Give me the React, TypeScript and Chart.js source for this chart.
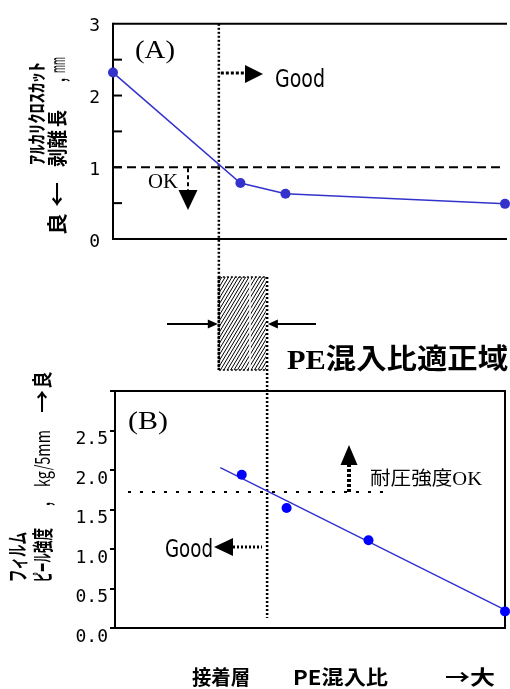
import React, { useEffect, useRef } from 'react';
import { Chart, registerables } from 'chart.js';

Chart.register(...registerables);

// ---- data ----
const peRatioA = [0, 32.5, 44, 100];
const peelLengthA = [2.32, 0.78, 0.63, 0.49];
const peRatioB = [32.5, 44, 65, 100];
const peelStrengthB = [1.94, 1.52, 1.11, 0.21];
const trendX = [27, 100];
const trendY = [2.03, 0.23];
const limitA = 1.0;
const limitB = 1.72;
const rangeLow = 27;
const rangeHigh = 39;

const TICK_FONT = { family: '"DejaVu Sans Mono", monospace', size: 18 };
const JP = '"Noto Sans CJK JP", sans-serif';
const SERIF_JP = '"Liberation Serif", "Noto Sans CJK JP", serif';

type Opt = { rot?: number; base?: CanvasTextBaseline; color?: string };

function fit(ctx: CanvasRenderingContext2D, s: string, x: number, y: number, font: string, len: number, o: Opt = {}) {
  ctx.save();
  ctx.font = font;
  ctx.fillStyle = o.color || '#000';
  const w = ctx.measureText(s).width || 1;
  ctx.translate(x, y);
  if (o.rot) ctx.rotate(o.rot);
  ctx.scale(len / w, 1);
  ctx.textAlign = 'center';
  ctx.textBaseline = o.base || 'alphabetic';
  ctx.fillText(s, 0, 0);
  ctx.restore();
}

function seg(ctx: CanvasRenderingContext2D, x1: number, y1: number, x2: number, y2: number, w: number, dash: number[] = [], color = '#000') {
  ctx.save();
  ctx.strokeStyle = color;
  ctx.lineWidth = w;
  ctx.setLineDash(dash);
  ctx.beginPath();
  ctx.moveTo(x1, y1);
  ctx.lineTo(x2, y2);
  ctx.stroke();
  ctx.restore();
}

function tri(ctx: CanvasRenderingContext2D, tx: number, ty: number, dir: 'up' | 'down' | 'left' | 'right', len: number, half: number) {
  ctx.save();
  ctx.fillStyle = '#000';
  ctx.beginPath();
  ctx.moveTo(tx, ty);
  if (dir === 'right') { ctx.lineTo(tx - len, ty - half); ctx.lineTo(tx - len, ty + half); }
  if (dir === 'left') { ctx.lineTo(tx + len, ty - half); ctx.lineTo(tx + len, ty + half); }
  if (dir === 'down') { ctx.lineTo(tx - half, ty - len); ctx.lineTo(tx + half, ty - len); }
  if (dir === 'up') { ctx.lineTo(tx - half, ty + len); ctx.lineTo(tx + half, ty + len); }
  ctx.closePath();
  ctx.fill();
  ctx.restore();
}

const R90 = -Math.PI / 2;

const decorA = {
  id: 'decorA',
  beforeDatasetsDraw(chart: any) {
    const { ctx, chartArea: ca, scales } = chart;
    const y = scales.y;
    // frame (no right edge visible)
    seg(ctx, ca.left, ca.top, ca.right + 2, ca.top, 2);
    seg(ctx, ca.left, ca.bottom, ca.right + 2, ca.bottom, 2);
    seg(ctx, ca.left, ca.top - 1, ca.left, ca.bottom + 1, 2);
    // inward ticks
    for (let v = 0.5; v < 3; v += 0.5) {
      const py = y.getPixelForValue(v);
      seg(ctx, ca.left, py, ca.left + 9, py, 2);
    }
    // limit line
    const yl = y.getPixelForValue(limitA);
    seg(ctx, ca.left, yl, ca.right, yl, 2, [9, 5]);
    // vertical range line (low)
    const vx = scales.x.getPixelForValue(rangeLow);
    seg(ctx, vx, ca.top, vx, 370, 2.5, [2, 2]);
  },
  afterDraw(chart: any) {
    const { ctx, scales } = chart;
    const x = scales.x;
    const bx1 = x.getPixelForValue(rangeLow);
    const bx2 = x.getPixelForValue(rangeHigh);
    const by1 = 277, by2 = 370;

    // (A) label
    fit(ctx, '(A)', 155, 58, '26px "Liberation Serif", serif', 40);
    // Good arrow
    seg(ctx, bx1 + 2, 73, 246, 73, 3, [3, 2]);
    tri(ctx, 263, 74, 'right', 18, 9);
    fit(ctx, 'Good', 300, 87, '24px "DejaVu Sans", sans-serif', 50);
    // OK arrow
    const yl = scales.y.getPixelForValue(limitA);
    seg(ctx, 188, yl + 1, 188, 191, 2, [4, 3]);
    tri(ctx, 188, 210, 'down', 20, 9.5);
    fit(ctx, 'OK', 163, 188, '20px "Liberation Serif", serif', 30);

    // y-axis title
    fit(ctx, 'ｱﾙｶﾘｸﾛｽｶｯﾄ', 37, 113.5, `bold 19px ${JP}`, 103, { rot: R90, base: 'middle' });
    fit(ctx, '良', 57, 224, `bold 20px ${JP}`, 22, { rot: R90, base: 'middle' });
    fit(ctx, '←', 57, 194.5, `bold 20px ${JP}`, 25, { rot: R90, base: 'middle' });
    fit(ctx, '剥離', 57, 148.5, `bold 20px ${JP}`, 37, { rot: R90, base: 'middle' });
    fit(ctx, '長', 57, 118.5, `bold 20px ${JP}`, 17, { rot: R90, base: 'middle' });
    fit(ctx, ',', 57, 80, `bold 20px ${JP}`, 4, { rot: R90, base: 'middle' });
    fit(ctx, 'mm', 57, 65, `20px ${JP}`, 16, { rot: R90, base: 'middle' });

    // hatched range box
    ctx.save();
    ctx.beginPath();
    ctx.rect(bx1, by1, bx2 - bx1, by2 - by1);
    ctx.clip();
    ctx.strokeStyle = '#000';
    ctx.lineWidth = 1;
    ctx.beginPath();
    const h = by2 - by1;
    for (let k = -80; k < 80; k += 3.4) {
      ctx.moveTo(bx1 + k, by2);
      ctx.lineTo(bx1 + k + h * 0.6, by1);
    }
    ctx.stroke();
    ctx.restore();
    seg(ctx, 250, by1, 250, by2, 1.5, [], '#fff');
    seg(ctx, bx1, by1, bx2, by1, 1.5, [2, 2]);
    seg(ctx, bx1, by2, bx2, by2, 1.5, [2, 2]);
    seg(ctx, bx1, by1, bx1, by2, 2.5, [2, 2]);

    // converging arrows
    seg(ctx, 167, 324, bx1 - 9, 324, 2);
    tri(ctx, bx1 - 1, 324, 'right', 10, 4.5);
    seg(ctx, 316, 324, bx2 + 10, 324, 2);
    tri(ctx, bx2 + 2, 324, 'left', 10, 4.5);

    fit(ctx, 'PE混入比適正域', 397.5, 369, `bold 28px ${SERIF_JP}`, 221);
  },
};

const decorB = {
  id: 'decorB',
  beforeDatasetsDraw(chart: any) {
    const { ctx, chartArea: ca, scales } = chart;
    ctx.save();
    ctx.strokeStyle = '#000';
    ctx.lineWidth = 2;
    ctx.strokeRect(ca.left, ca.top, ca.right - ca.left, ca.bottom - ca.top);
    ctx.restore();
    const yl = scales.y.getPixelForValue(limitB);
    seg(ctx, 128, yl, 383, yl, 2, [3, 9]);
    const vx = scales.x.getPixelForValue(rangeHigh);
    seg(ctx, vx, 277, vx, 618, 2.5, [2, 2]);
  },
  afterDraw(chart: any) {
    const { ctx, scales } = chart;
    const yl = scales.y.getPixelForValue(limitB);
    fit(ctx, '(B)', 148, 429, '26px "Liberation Serif", serif', 40);
    // up arrow
    seg(ctx, 349, yl, 349, 465, 4, [3, 2]);
    tri(ctx, 349, 445, 'up', 20, 8.5);
    fit(ctx, '耐圧強度OK', 426, 485, `19px ${SERIF_JP}`, 112);
    // left arrow
    seg(ctx, 233, 547, 262, 547, 3, [2, 2]);
    tri(ctx, 214, 547, 'left', 19, 9);
    fit(ctx, 'Good', 189, 557, '24px "DejaVu Sans", sans-serif', 48);

    // y-axis title
    fit(ctx, 'フィルム', 17, 557, `bold 21px ${JP}`, 50, { rot: R90, base: 'middle' });
    fit(ctx, 'ピール', 42, 567.5, `bold 21px ${JP}`, 29, { rot: R90, base: 'middle' });
    fit(ctx, '強度', 42, 540.5, `bold 21px ${JP}`, 25, { rot: R90, base: 'middle' });
    fit(ctx, ',', 42, 504, `bold 20px ${JP}`, 4, { rot: R90, base: 'middle' });
    fit(ctx, 'kg/5mm', 42, 458.5, `20px ${JP}`, 57, { rot: R90, base: 'middle' });
    fit(ctx, '→', 42, 401.5, `bold 20px ${JP}`, 23, { rot: R90, base: 'middle' });
    fit(ctx, '良', 42, 380, `bold 20px ${JP}`, 17, { rot: R90, base: 'middle' });

    // x-axis caption
    fit(ctx, '接着層', 221, 685, `bold 20px ${JP}`, 58);
    fit(ctx, 'PE混入比', 340.5, 685, `bold 20px ${JP}`, 95);
    fit(ctx, '→大', 470, 685, `bold 20px ${JP}`, 50);
  },
};

export default function App() {
  const refA = useRef<HTMLCanvasElement>(null);
  const refB = useRef<HTMLCanvasElement>(null);

  useEffect(() => {
    const chartA = new Chart(refA.current as HTMLCanvasElement, {
      type: 'scatter',
      data: {
        datasets: [
          {
            data: peRatioA.map((x, i) => ({ x, y: peelLengthA[i] })),
            showLine: true,
            borderColor: '#3333cc',
            backgroundColor: '#3333cc',
            borderWidth: 1.5,
            pointRadius: 5,
            pointBorderWidth: 0,
            clip: false as any,
          },
        ],
      },
      options: {
        animation: false,
        responsive: false,
        devicePixelRatio: 1,
        events: [],
        layout: { padding: { top: 23, bottom: 450, left: 0, right: 0 } },
        plugins: { legend: { display: false }, tooltip: { enabled: false } },
        scales: {
          x: { type: 'linear', min: 0, max: 100, display: false },
          y: {
            min: 0,
            max: 3,
            afterFit: (s: any) => { s.width = 113; },
            border: { display: false },
            grid: { display: false, drawTicks: false },
            ticks: {
              stepSize: 0.5,
              padding: 13,
              labelOffset: 3,
              color: '#000',
              font: TICK_FONT,
              callback: (v: any) => (Number.isInteger(v) ? String(v) : ''),
            },
          },
        },
      },
      plugins: [decorA],
    } as any);

    const chartB = new Chart(refB.current as HTMLCanvasElement, {
      type: 'scatter',
      data: {
        datasets: [
          {
            data: peRatioB.map((x, i) => ({ x, y: peelStrengthB[i] })),
            showLine: false,
            borderColor: '#0000ff',
            backgroundColor: '#0000ff',
            pointRadius: 5,
            pointBorderWidth: 0,
            clip: false as any,
          },
          {
            data: trendX.map((x, i) => ({ x, y: trendY[i] })),
            showLine: true,
            borderColor: '#3333cc',
            borderWidth: 1.5,
            pointRadius: 0,
            clip: false as any,
          },
        ],
      },
      options: {
        animation: false,
        responsive: false,
        devicePixelRatio: 1,
        events: [],
        layout: { padding: { top: 391, bottom: 61, left: 0, right: 1 } },
        plugins: { legend: { display: false }, tooltip: { enabled: false } },
        scales: {
          x: { type: 'linear', min: 0, max: 100, display: false },
          y: {
            min: 0,
            max: 3,
            afterFit: (s: any) => { s.width = 115; },
            border: { display: false },
            grid: { display: true, drawOnChartArea: false, drawTicks: true, tickLength: 5, color: '#000', lineWidth: 2 },
            ticks: {
              stepSize: 0.5,
              padding: 2,
              labelOffset: 9,
              color: '#000',
              font: TICK_FONT,
              callback: (v: any) => (v < 3 ? Number(v).toFixed(1) : ''),
            },
          },
        },
      },
      plugins: [decorB],
    } as any);

    return () => {
      chartA.destroy();
      chartB.destroy();
    };
  }, []);

  return (
    <div style={{ position: 'absolute', left: 0, top: 0, width: 510, height: 689, background: '#fff', overflow: 'hidden' }}>
      <canvas ref={refA} width={510} height={689} style={{ position: 'absolute', left: 0, top: 0 }} />
      <canvas ref={refB} width={510} height={689} style={{ position: 'absolute', left: 0, top: 0 }} />
    </div>
  );
}
